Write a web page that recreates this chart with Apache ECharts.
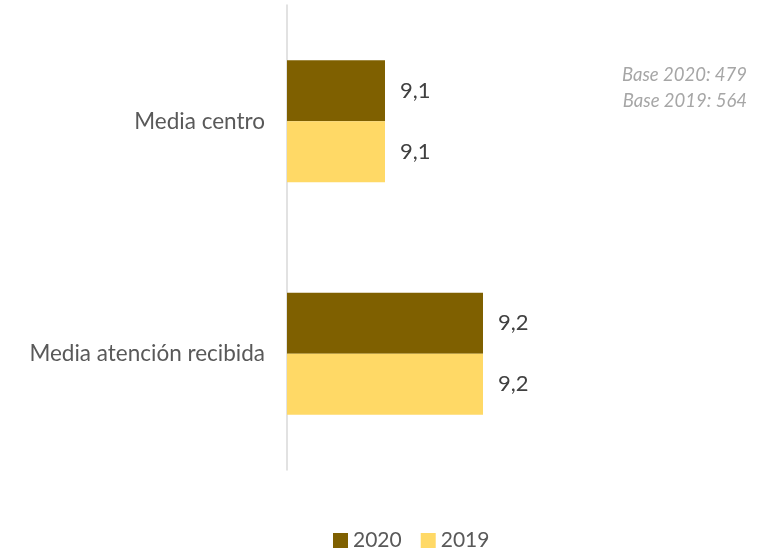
<!DOCTYPE html>
<html><head><meta charset="utf-8">
<script src="https://cdn.jsdelivr.net/npm/echarts@6/dist/echarts.min.js"></script>
<style>html,body{margin:0;padding:0;background:#fff}#c{width:772px;height:549px}</style>
</head><body><div id="c"></div>
<script>
const categories = ['Media centro', 'Media atención recibida'];
const values2020 = [9.1, 9.2];
const values2019 = [9.1, 9.2];
const seriesNames = ['2020', '2019'];
const notes = ['Base 2020: 479', 'Base 2019: 564'];

const FONT = 'Lato, "Open Sans", sans-serif';
const chart = echarts.init(document.getElementById('c'), null, {renderer: 'canvas'});
const fmt = p => String(p.value).replace('.', ',');
chart.setOption({
  animation: false,
  textStyle: {fontFamily: FONT},
  grid: {left: 287, right: 93, top: 5, bottom: 79},
  xAxis: {type: 'value', min: 9.0, max: 9.4, show: false},
  yAxis: {
    type: 'category', data: categories, inverse: true,
    axisLine: {show: true, lineStyle: {color: '#D9D9D9', width: 1.5}},
    axisTick: {show: false},
    axisLabel: {color: '#595959', fontSize: 22.5, margin: 22, fontFamily: FONT}
  },
  legend: {
    top: 530, left: 333, padding: 0, itemWidth: 15, itemHeight: 15, itemGap: 19,
    icon: 'rect',
    textStyle: {color: '#595959', fontSize: 21, fontFamily: FONT, padding: [0, 0, 0, 0]},
    data: seriesNames
  },
  series: [
    {name: seriesNames[0], type: 'bar', data: values2020, barGap: '0%', barCategoryGap: '47.5%',
     itemStyle: {color: '#7F6000'},
     label: {show: true, position: 'right', distance: 15, color: '#404040', fontSize: 22, fontFamily: FONT, formatter: fmt}},
    {name: seriesNames[1], type: 'bar', data: values2019, barGap: '0%', barCategoryGap: '47.5%',
     itemStyle: {color: '#FFD966'},
     label: {show: true, position: 'right', distance: 15, color: '#404040', fontSize: 22, fontFamily: FONT, formatter: fmt}}
  ],
  graphic: [
    {type: 'text', right: 25, top: 66, style: {text: notes[0], fill: '#A6A6A6', font: 'italic 18.5px ' + FONT, textAlign: 'right'}},
    {type: 'text', right: 25, top: 92, style: {text: notes[1], fill: '#A6A6A6', font: 'italic 18.5px ' + FONT, textAlign: 'right'}}
  ]
});
</script></body></html>
